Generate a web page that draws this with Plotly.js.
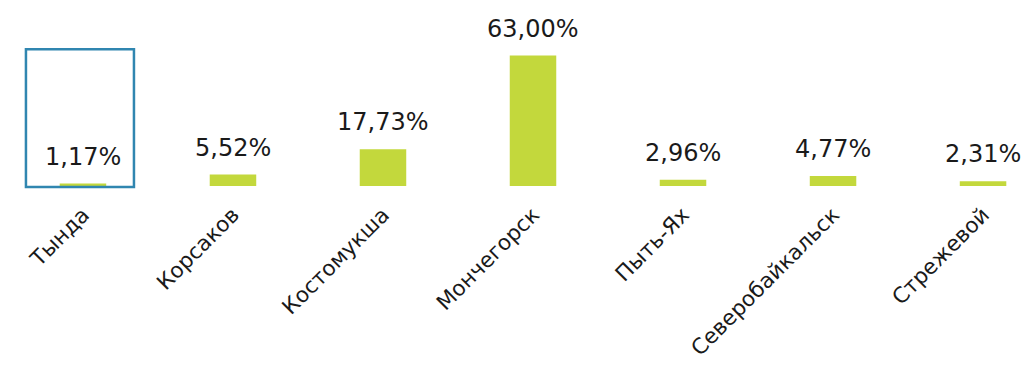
<!DOCTYPE html>
<html>
<head>
<meta charset="utf-8">
<script src="https://cdn.plot.ly/plotly-3.0.1.min.js"></script>
<style>html,body{margin:0;padding:0;background:#fff;}#chart{width:1021px;height:365px;}</style>
</head>
<body>
<div id="chart"></div>
<script>
const cities = ["Тында", "Корсаков", "Костомукша", "Мончегорск", "Пыть-Ях", "Северобайкальск", "Стрежевой"];
const shares = [1.17, 5.52, 17.73, 63.00, 2.96, 4.77, 2.31];
const labels = shares.map(v => v.toFixed(2).replace('.', ',') + '%');

const FONT = "'DejaVu Sans', sans-serif";

const trace = {
  type: 'bar',
  x: cities,
  y: shares,
  marker: {color: '#c3d83c'},
  hoverinfo: 'skip'
};

const annotations = cities.map((c, i) => ({
  x: c, y: shares[i], xref: 'x', yref: 'y',
  text: labels[i], showarrow: false,
  yanchor: 'bottom', yshift: 11,
  font: {family: FONT, size: 24, color: '#1a1a1a'}
}));

const layout = {
  width: 1021, height: 365,
  margin: {l: 0, r: 0, t: 0, b: 179},
  paper_bgcolor: '#fff', plot_bgcolor: '#fff',
  showlegend: false,
  bargap: 0.69,
  xaxis: {
    type: 'category',
    range: [-0.553, 6.253],
    tickangle: -45,
    showgrid: false, zeroline: false, showline: false, ticks: '',
    ticklabelstandoff: 11,
    tickfont: {family: FONT, size: 21.5, color: '#1a1a1a'},
    fixedrange: true
  },
  yaxis: {
    range: [0, 89.8],
    visible: false,
    showgrid: false, zeroline: false,
    fixedrange: true
  },
  shapes: [{
    type: 'rect', xref: 'x', yref: 'paper',
    x0: -0.38, x1: 0.34, y0: -0.005, y1: 0.735,
    line: {color: '#3086b0', width: 2.5}, fillcolor: 'rgba(0,0,0,0)'
  }],
  annotations: annotations
};

Plotly.newPlot('chart', [trace], layout, {displayModeBar: false, staticPlot: true});
</script>
</body>
</html>
